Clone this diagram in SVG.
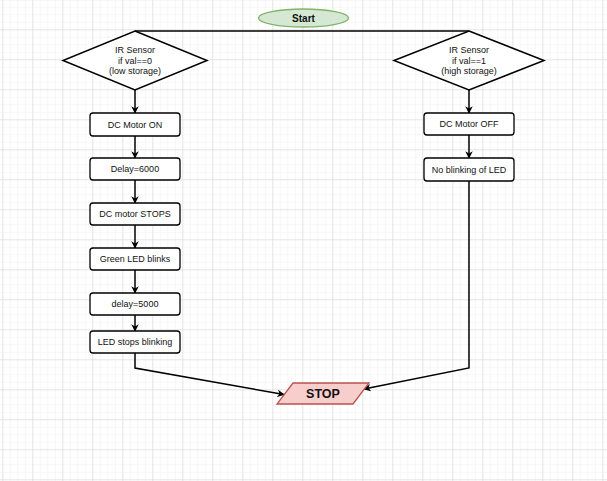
<svg xmlns="http://www.w3.org/2000/svg" width="607" height="481" viewBox="0 0 607 481">
  <defs>
    <pattern id="minor" x="2.3" y="-0.7" width="7.5" height="7.5" patternUnits="userSpaceOnUse">
      <path d="M0 0H7.5M0 0V7.5" fill="none" stroke="#efefef" stroke-width="1"/>
    </pattern>
    <pattern id="major" x="2.3" y="-0.7" width="30" height="30" patternUnits="userSpaceOnUse">
      <path d="M0 0H30M0 0V30" fill="none" stroke="#d6d6d6" stroke-width="1"/>
    </pattern>
    <marker id="arrow" viewBox="0 0 10 10" refX="9" refY="5" markerWidth="5" markerHeight="5" orient="auto" markerUnits="strokeWidth">
      <path d="M0 0L10 5L0 10L3 5Z" fill="#000"/>
    </marker>
  </defs>
  <style>
    .box { fill: #ffffff; stroke: #000000; stroke-width: 1.3; }
    .dec { fill: #ffffff; stroke: #000000; stroke-width: 1.5; }
    .lbl { font-family: "Liberation Sans", Arial, sans-serif; font-size: 9px; fill: #111111; text-anchor: middle; dominant-baseline: central; }
    .edge { fill: none; stroke: #000000; stroke-width: 1.5; }
    .edge-a { fill: none; stroke: #000000; stroke-width: 1.5; marker-end: url(#arrow); }
  </style>

  <!-- canvas grid -->
  <rect width="607" height="481" fill="#ffffff"/>
  <rect width="607" height="481" fill="url(#minor)"/>
  <rect width="607" height="481" fill="url(#major)"/>

  <!-- connectors -->
  <g id="connectors">
    <path class="edge" d="M135 31H469"/>
    <path class="edge-a" d="M135 90V113"/>
    <path class="edge-a" d="M135 136V158"/>
    <path class="edge-a" d="M135 180V203"/>
    <path class="edge-a" d="M135 225V248"/>
    <path class="edge-a" d="M135 270V293"/>
    <path class="edge-a" d="M135 315V331"/>
    <path class="edge-a" d="M135 353V368L284 394.5"/>
    <path class="edge-a" d="M469 90V113"/>
    <path class="edge-a" d="M469 135V158"/>
    <path class="edge-a" d="M469 181V368L364 389"/>
  </g>

  <g id="start">
    <ellipse cx="303.5" cy="18" rx="45" ry="9" fill="#d5e8d4" stroke="#82b366" stroke-width="1.3"/>
    <text class="lbl" x="303.5" y="18.5" style="font-weight:bold;font-size:10px">Start</text>
  </g>

  <g id="sensor-low">
    <polygon class="dec" points="135,31 207,60.5 135,90 63,60.5"/>
    <text class="lbl" x="135" y="50">IR Sensor</text>
    <text class="lbl" x="135" y="60.5">if val==0</text>
    <text class="lbl" x="135" y="71">(low storage)</text>
  </g>

  <g id="sensor-high">
    <polygon class="dec" points="469,31 544,60.5 469,90 394,60.5"/>
    <text class="lbl" x="469" y="50">IR Sensor</text>
    <text class="lbl" x="469" y="60.5">if val==1</text>
    <text class="lbl" x="469" y="71">(high storage)</text>
  </g>

  <g id="motor-on">
    <rect class="box" x="90" y="113" width="90" height="23" rx="3"/>
    <text class="lbl" x="135" y="124.5">DC Motor ON</text>
  </g>

  <g id="delay-6000">
    <rect class="box" x="90" y="158" width="90" height="22" rx="3"/>
    <text class="lbl" x="135" y="169">Delay=6000</text>
  </g>

  <g id="motor-stops">
    <rect class="box" x="90" y="203" width="90" height="22" rx="3"/>
    <text class="lbl" x="135" y="214">DC motor STOPS</text>
  </g>

  <g id="green-led">
    <rect class="box" x="90" y="248" width="90" height="22" rx="3"/>
    <text class="lbl" x="135" y="259">Green LED blinks</text>
  </g>

  <g id="delay-5000">
    <rect class="box" x="90" y="293" width="90" height="22" rx="3"/>
    <text class="lbl" x="135" y="304">delay=5000</text>
  </g>

  <g id="led-stops">
    <rect class="box" x="90" y="331" width="90" height="22" rx="3"/>
    <text class="lbl" x="135" y="342">LED stops blinking</text>
  </g>

  <g id="motor-off">
    <rect class="box" x="424" y="113" width="90" height="22" rx="3"/>
    <text class="lbl" x="469" y="124">DC Motor OFF</text>
  </g>

  <g id="no-blink">
    <rect class="box" x="424" y="158" width="90" height="23" rx="3"/>
    <text class="lbl" x="469" y="169.5">No blinking of LED</text>
  </g>

  <g id="stop">
    <polygon points="293,383 369,383 353,404 277,404" fill="#f8cecc" stroke="#b85450" stroke-width="1.3"/>
    <text class="lbl" x="323" y="394" style="font-weight:bold;font-size:12.5px">STOP</text>
  </g>
</svg>
